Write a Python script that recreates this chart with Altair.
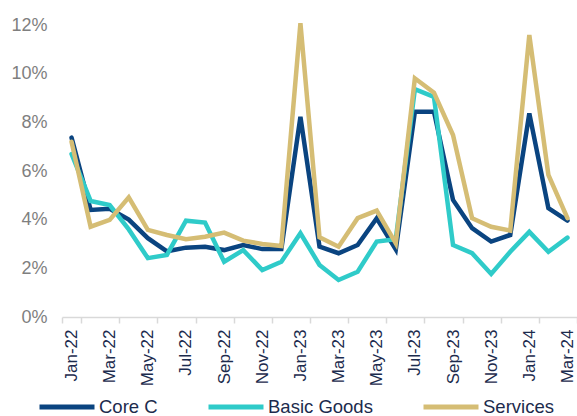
import altair as alt
import pandas as pd

months = ["Jan-22", "Feb-22", "Mar-22", "Apr-22", "May-22", "Jun-22", "Jul-22", "Aug-22",
          "Sep-22", "Oct-22", "Nov-22", "Dec-22", "Jan-23", "Feb-23", "Mar-23", "Apr-23",
          "May-23", "Jun-23", "Jul-23", "Aug-23", "Sep-23", "Oct-23", "Nov-23", "Dec-23",
          "Jan-24", "Feb-24", "Mar-24"]

core_c = [7.37, 4.4, 4.45, 4.0, 3.24, 2.7, 2.85, 2.89, 2.75, 2.96, 2.79, 2.79, 8.23, 2.89,
          2.62, 2.96, 4.06, 2.78, 8.44, 8.44, 4.81, 3.65, 3.1, 3.37, 8.37, 4.47, 3.96]
basic_goods = [6.7, 4.77, 4.6, 3.6, 2.42, 2.55, 3.96, 3.88, 2.27, 2.75, 1.93, 2.27, 3.44, 2.14,
               1.52, 1.86, 3.1, 3.2, 9.36, 9.05, 2.96, 2.62, 1.77, 2.68, 3.5, 2.68, 3.26]
services = [7.2, 3.71, 3.99, 4.92, 3.58, 3.37, 3.2, 3.3, 3.47, 3.14, 3.0, 2.92, 12.07, 3.28,
            2.89, 4.06, 4.37, 3.03, 9.81, 9.22, 7.48, 4.06, 3.71, 3.55, 11.59, 5.84, 4.06]

series_names = ["Core C", "Basic Goods", "Services"]
colors = ["#0a4480", "#2fcbc9", "#d5bd74"]
y_ticks = [0, 2, 4, 6, 8, 10, 12]

rows = []
for name, vals in zip(series_names, [core_c, basic_goods, services]):
    for m, v in zip(months, vals):
        rows.append({"month": m, "value": v, "series": name})
df = pd.DataFrame(rows)

FONT = "Liberation Sans"
NAVY_TEXT = "#1c2b4d"

color = alt.Color(
    "series:N",
    scale=alt.Scale(domain=series_names, range=colors),
    legend=alt.Legend(
        title=None, orient="none", legendX=-25, legendY=352, direction="horizontal",
        symbolType="stroke", symbolSize=3025, symbolStrokeWidth=5,
        labelFontSize=18.5, labelColor=NAVY_TEXT, labelFont=FONT, labelOffset=2,
        columnPadding=40, padding=0,
    ),
)

x = alt.X(
    "month:O", sort=months, title=None, bandPosition=0.5,
    scale=alt.Scale(type="band", paddingInner=0, paddingOuter=0),
    axis=alt.Axis(
        values=months[::2], tickBand="extent", labelAngle=-90,
        labelFontSize=17, labelColor=NAVY_TEXT, labelFont=FONT, labelPadding=6,
        domainColor="#d9d9d9", domainWidth=1.5, tickColor="#d9d9d9", tickWidth=1.5,
        tickSize=6, grid=False,
    ),
)

y = alt.Y(
    "value:Q", title=None,
    scale=alt.Scale(domain=[0, 12], nice=False),
    axis=alt.Axis(
        values=y_ticks, labelExpr="datum.value + '%'", grid=False, domain=False,
        ticks=False, tickSize=0, labelPadding=15, labelFontSize=18,
        labelColor="#7f7f7f", labelFont=FONT,
    ),
)

base = alt.Chart(df).mark_line(strokeWidth=4.5, strokeCap="round", clip=False)
layers = [
    base.transform_filter(alt.datum.series == s).encode(x=x, y=y, color=color)
    for s in series_names
]

chart = (
    alt.layer(*layers)
    .properties(
        width=515, height=292,
        autosize=alt.AutoSizeParams(type="none"),
        padding={"left": 62, "top": 25, "right": 0, "bottom": 99},
    )
    .configure_view(stroke=None)
)

chart.save("out.html", embed_options={"renderer": "svg", "actions": False})
